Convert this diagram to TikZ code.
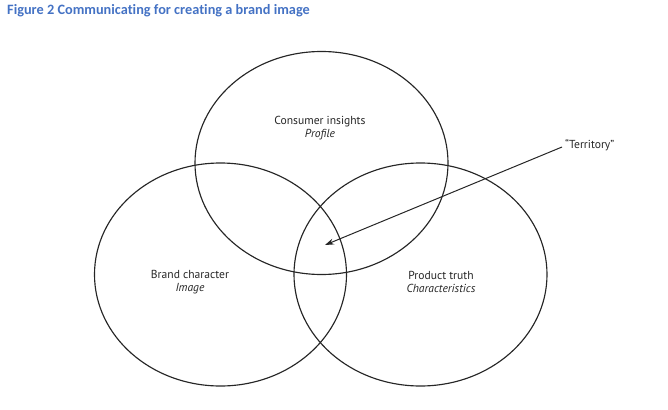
\documentclass[tikz,border=0pt]{standalone}
\usepackage{fontspec}
\setmainfont{PT Sans}
\newfontfamily\titlefont[Ligatures=CommonOff]{Carlito}
\usetikzlibrary{arrows.meta}
\definecolor{titleblue}{HTML}{4472C4}
\tikzset{
  venn/.style={draw=black!85, line width=1.15pt},
  lbl/.style={font=\fontsize{11.6}{12.5}\selectfont, align=center, text=black!85, inner sep=0pt},
  pointer/.style={draw=black!85, line width=1pt, -{Stealth[length=9pt,width=6pt]}}
}
\begin{document}
\begin{tikzpicture}[x=1pt,y=-1pt]
\useasboundingbox (0,0) rectangle (668,409);
\node[anchor=west, text=titleblue, font=\titlefont\bfseries\fontsize{14.3}{16}\selectfont, inner sep=0pt] (title) at (7,11) {Figure 2 Communicating for creating a brand image};
\draw[venn] (321.5,163) ellipse [x radius=126.5, y radius=111.5];
\draw[venn] (220.5,274.5) ellipse [x radius=126, y radius=111.5];
\draw[venn] (420.5,274.5) ellipse [x radius=126.5, y radius=111.5];
\node[lbl] (ci) at (320,128) {Consumer insights\\\itshape Profile};
\node[lbl] (bc) at (190,282) {Brand character\\\itshape Image};
\node[lbl] (pt) at (441,282) {Product truth\\\itshape Characteristics};
\node[lbl, anchor=west] (terr) at (565,145) {“Territory”};
\coordinate (tip) at (325,245);
\draw[pointer] (terr.west) ++(-3,2) -- (tip);
\end{tikzpicture}
\end{document}
